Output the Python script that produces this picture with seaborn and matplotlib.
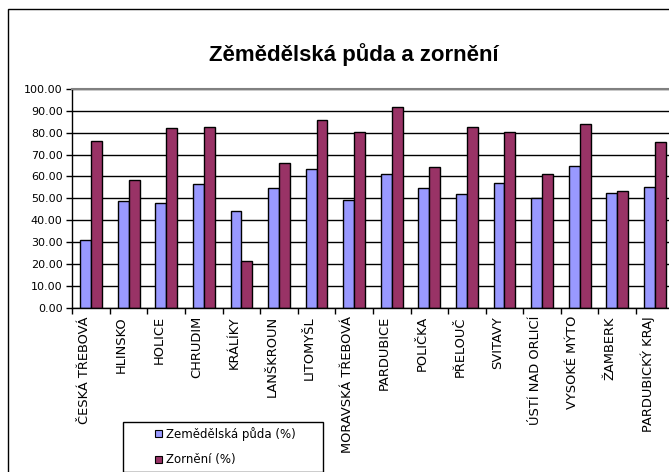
import matplotlib
matplotlib.use("Agg")
import matplotlib.pyplot as plt
import matplotlib.transforms as mtransforms
import seaborn as sns
import pandas as pd
import numpy as np
from matplotlib.patches import Patch, Rectangle
from matplotlib.ticker import FormatStrFormatter, MultipleLocator, FixedLocator

categories = ["ČESKÁ TŘEBOVÁ", "HLINSKO", "HOLICE", "CHRUDIM", "KRÁLÍKY",
              "LANŠKROUN", "LITOMYŠL", "MORAVSKÁ TŘEBOVÁ", "PARDUBICE", "POLIČKA",
              "PŘELOUČ", "SVITAVY", "ÚSTÍ NAD ORLICÍ", "VYSOKÉ MÝTO", "ŽAMBERK",
              "PARDUBICKÝ KRAJ"]
zemedelska_puda = [31.0, 48.6, 48.0, 56.4, 44.1, 54.9, 63.3, 49.3, 61.0, 54.9,
                   52.0, 57.2, 50.3, 65.0, 52.5, 55.0]
zorneni = [76.4, 58.4, 82.1, 82.7, 21.3, 66.3, 85.6, 80.3, 91.8, 64.4,
           82.6, 80.3, 61.0, 84.0, 53.2, 75.9]
series_names = ["Zemědělská půda (%)", "Zornění (%)"]
colors = ["#9999FF", "#993366"]
title = "Zěmědělská půda a zornění"

df = pd.DataFrame({
    "Obec": categories * 2,
    "Hodnota": zemedelska_puda + zorneni,
    "Řada": [series_names[0]] * len(categories) + [series_names[1]] * len(categories),
})

sns.set_style("white")
plt.rcParams["font.family"] = ["DejaVu Sans"]
for k in ["text.color", "axes.labelcolor", "xtick.color", "ytick.color"]:
    plt.rcParams[k] = "black"

W, H = 669, 472
fig = plt.figure(figsize=(W / 100, H / 100), dpi=100)
fig.patch.set_facecolor("white")

# chart frame
fig.add_artist(Rectangle((8 / W, 1 - 480 / H), (705 - 8) / W, (480 - 9) / H,
                         transform=fig.transFigure, fill=False, edgecolor="black",
                         linewidth=1.0, clip_on=False))

left, right, top, bottom = 72.3, 673.6, 89.0, 307.7
ax = fig.add_axes([left / W, 1 - bottom / H, (right - left) / W, (bottom - top) / H])

sns.barplot(data=df, x="Obec", y="Hodnota", hue="Řada", palette=colors,
            width=0.58, edgecolor="black", linewidth=1.0, ax=ax, legend=False,
            saturation=1)

ax.set_xlim(-0.5, len(categories) - 0.5)
ax.set_ylim(0, 100)
ax.yaxis.set_major_locator(MultipleLocator(10))
ax.yaxis.set_major_formatter(FormatStrFormatter("%.2f"))
ax.grid(axis="y", color="black", linewidth=1.0)
ax.set_axisbelow(True)
ax.set_xlabel("")
ax.set_ylabel("")

ax.tick_params(axis="y", which="major", length=4, width=1, color="black",
               direction="out", labelsize=8, pad=3, left=True)
ax.set_xticks(range(len(categories)))
ax.set_xticklabels(categories, rotation=90, fontsize=9.4)
ax.tick_params(axis="x", which="major", length=0, pad=6)
ax.xaxis.set_minor_locator(FixedLocator(np.arange(-0.5, len(categories), 1.0)))
ax.tick_params(axis="x", which="minor", length=4, width=1, color="black",
               direction="out", bottom=True)
shift = mtransforms.ScaledTranslation(-7 / 100, 0, fig.dpi_scale_trans)
for lab in ax.get_xticklabels():
    lab.set_transform(lab.get_transform() + shift)

for s in ["left", "bottom"]:
    ax.spines[s].set_color("black")
    ax.spines[s].set_linewidth(1.0)
ax.spines["top"].set_color("#808080")
ax.spines["top"].set_linewidth(1.5)
ax.spines["right"].set_visible(False)

fig.text(354 / W, 1 - 55 / H, title, ha="center", va="center",
         fontsize=16, fontweight="bold", family="Liberation Sans", color="black")

# legend box
fig.add_artist(Rectangle((123 / W, 1 - 471.5 / H), 200 / W, (471.5 - 422) / H,
                         transform=fig.transFigure, fill=True, facecolor="white",
                         edgecolor="black", linewidth=1.0, zorder=5))
handles = [Patch(facecolor=c, edgecolor="black", linewidth=0.8) for c in colors]
leg = fig.legend(handles, series_names, loc="upper left",
                 bbox_to_anchor=(151 / W, 1 - 423 / H), fontsize=8.5,
                 frameon=False, handlelength=0.6, handleheight=0.6,
                 handletextpad=0.35, borderpad=0.3, labelspacing=1.1,
                 borderaxespad=0)
leg.set_zorder(6)

fig.savefig("out.png", dpi=100)
